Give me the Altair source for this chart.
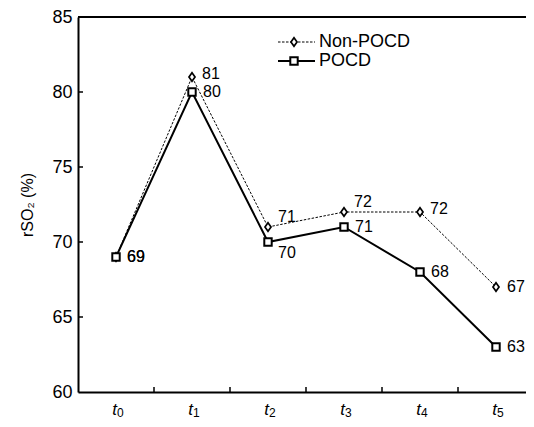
import altair as alt
import pandas as pd

# ---- data ----
times = ["t0", "t1", "t2", "t3", "t4", "t5"]
subs = ["0", "1", "2", "3", "4", "5"]
non_pocd = [69, 81, 71, 72, 72, 67]
pocd = [69, 80, 70, 71, 68, 63]
y_ticks = [60, 65, 70, 75, 80, 85]
inner_y_ticks = [65, 70, 75, 80]
# label placement relative to each point (style only)
non_pos = ["right", "upright", "up", "up", "upright", "right"]
pocd_pos = ["right", "right", "down", "right", "right", "right"]

W, H = 456, 375
FONT = "Liberation Sans"

df_non = pd.DataFrame({"time": times, "value": non_pocd, "pos": non_pos})
df_poc = pd.DataFrame({"time": times, "value": pocd, "pos": pocd_pos})
df_x = pd.DataFrame({"time": times, "sub": subs})
df_xt = pd.DataFrame({"time": times[1:]})
df_yt = pd.DataFrame({"v": inner_y_ticks})
df_one = pd.DataFrame({"k": [0]})

xscale = alt.Scale(type="band", domain=times, paddingInner=0, paddingOuter=0)
yscale = alt.Scale(domain=[60, 85], nice=False, zero=False)

X = alt.X("time:N", scale=xscale, bandPosition=0.5,
          axis=alt.Axis(title=None, labels=False, ticks=False, domain=True,
                        domainColor="black", domainWidth=2))
Y = alt.Y("value:Q", scale=yscale,
          axis=alt.Axis(title="rSO₂ (%)", values=y_ticks, ticks=False, domain=True,
                        domainColor="black", domainWidth=2, grid=False,
                        labelFontSize=18, labelColor="black", labelPadding=6,
                        titleFontSize=16, titleFontWeight="normal", titleColor="black",
                        titlePadding=16))

diamond = "M0,-1L0.7,0L0,1L-0.7,0Z"

non_line = alt.Chart(df_non).mark_line(color="black", strokeWidth=1, strokeDash=[2.5, 1.5]).encode(x=X, y=Y)
poc_line = alt.Chart(df_poc).mark_line(color="black", strokeWidth=2).encode(x=X, y=Y)
non_pts = alt.Chart(df_non).mark_point(shape=diamond, size=75, filled=True, fill="white",
                                       stroke="black", strokeWidth=1.7, opacity=1).encode(x=X, y=Y)
poc_pts = alt.Chart(df_poc).mark_point(shape="square", size=55, filled=True, fill="white",
                                       stroke="black", strokeWidth=2, opacity=1).encode(x=X, y=Y)

offsets = {"right": (11, 0), "upright": (10, -3), "up": (10, -10), "down": (10, 11)}
label_layers = []
for df in (df_non, df_poc):
    for pos, (dx, dy) in offsets.items():
        label_layers.append(
            alt.Chart(df).transform_filter(alt.datum.pos == pos)
            .mark_text(align="left", baseline="middle", dx=dx, dy=dy, fontSize=16, color="black", font=FONT)
            .encode(x=X, y=Y, text="value:Q")
        )

# x tick labels: italic t with upright subscript digit
xl_t = alt.Chart(df_x).mark_text(text="t", fontStyle="italic", fontSize=17, align="right",
                                 baseline="alphabetic", dx=1, color="black", font=FONT).encode(
    x=X, y=alt.value(H + 23))
xl_s = alt.Chart(df_x).mark_text(fontSize=12, align="left", baseline="alphabetic", dx=1,
                                 color="black", font=FONT).encode(
    x=X, y=alt.value(H + 25), text="sub:N")

# inward ticks
x_ticks = alt.Chart(df_xt).mark_rule(color="black", strokeWidth=1.5).encode(
    x=alt.X("time:N", scale=xscale, bandPosition=0), y=alt.value(H - 5), y2=alt.value(H))
y_tk = alt.Chart(df_yt).mark_rule(color="black", strokeWidth=1.5).encode(
    y=alt.Y("v:Q", scale=yscale), x=alt.value(0), x2=alt.value(5))

top_border = alt.Chart(df_one).mark_rule(color="black", strokeWidth=2).encode(
    y=alt.value(0), x=alt.value(0), x2=alt.value(W))

# legend
lg_non_line = alt.Chart(df_one).mark_rule(color="black", strokeWidth=1, strokeDash=[2.5, 1.5]).encode(
    x=alt.value(200), x2=alt.value(237), y=alt.value(25))
lg_non_pt = alt.Chart(df_one).mark_point(shape=diamond, size=75, filled=True, fill="white",
                                         stroke="black", strokeWidth=1.7, opacity=1).encode(
    x=alt.value(216), y=alt.value(25))
lg_non_txt = alt.Chart(df_one).mark_text(text="Non-POCD", align="left", baseline="middle", fontSize=18,
                                         color="black", font=FONT).encode(x=alt.value(241), y=alt.value(25))
lg_poc_line = alt.Chart(df_one).mark_rule(color="black", strokeWidth=2).encode(
    x=alt.value(200), x2=alt.value(237), y=alt.value(44))
lg_poc_pt = alt.Chart(df_one).mark_point(shape="square", size=55, filled=True, fill="white",
                                         stroke="black", strokeWidth=2, opacity=1).encode(
    x=alt.value(216), y=alt.value(44))
lg_poc_txt = alt.Chart(df_one).mark_text(text="POCD", align="left", baseline="middle", fontSize=18,
                                         color="black", font=FONT).encode(x=alt.value(241), y=alt.value(44))

chart = alt.layer(
    non_line, poc_line, non_pts, poc_pts, *label_layers, xl_t, xl_s, x_ticks, y_tk, top_border,
    lg_non_line, lg_poc_line, lg_non_pt, lg_poc_pt, lg_non_txt, lg_poc_txt
).properties(
    width=W, height=H,
    autosize=alt.AutoSizeParams(type="none"),
    padding={"left": 70, "top": 9, "right": -8, "bottom": 27},
).configure_view(stroke=None).configure(font=FONT)

chart.save("out.html", embed_options={"renderer": "svg", "actions": False})
